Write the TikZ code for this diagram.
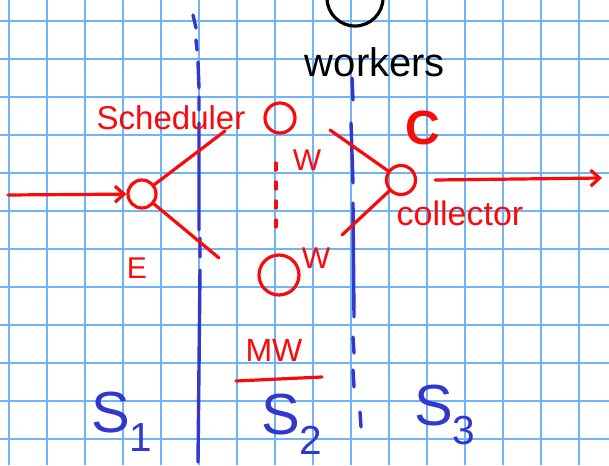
\documentclass[tikz,border=0pt]{standalone}
\usepackage{fontspec}
\setmainfont{Liberation Sans}
\usepackage{tikz}
\usetikzlibrary{positioning, arrows.meta}

\definecolor{inkred}{RGB}{250,10,10}
\definecolor{inkblue}{RGB}{50,55,205}
\definecolor{gridblue}{RGB}{110,180,250}

\begin{document}
\begin{tikzpicture}[x=1pt, y=-1pt, >={Straight Barb[length=9pt, width=16pt]},
    ink/.style={line width=3.2pt, line cap=round, inkred},
    sep/.style={line width=3.4pt, line cap=round, inkblue},
    proc/.style={circle, draw=inkred, line width=3.2pt, inner sep=0pt, minimum size=#1},
    lbl/.style={inkred, inner sep=0pt, font=\fontsize{#1}{#1}\selectfont},
    stage/.style={inkblue, inner sep=0pt, font=\fontsize{58}{58}\selectfont}]

    % squared paper
    \fill[white] (0,0) rectangle (609,465);
    \useasboundingbox (0,0) rectangle (609,465);
    \foreach \gx in {0,...,15}
        \draw[gridblue, line width=2pt] (8.5+38*\gx,0) -- ++(0,465);
    \foreach \gy in {0,...,11}
        \draw[gridblue, line width=2pt] (0,20.7+38*\gy) -- ++(609,0);

    % stage borders
    \draw[sep] (193,15) -- (196,28) (196,40) -- (197,50) (198,62) -- (199,88)
               (199,97) -- (199,110) (199,123) -- (199,230) (200,238) -- (200,257)
               (200,270) -- (198,462);
    \draw[sep] (352,78) -- (353,100) (351,123) -- (353,183) (353,203) -- (354,317)
               (353,337) -- (354,353) (353,370) -- (354,387) (360,412) -- (361,427);

    % farm
    \node[circle, draw, line width=3.2pt, minimum size=56pt] (master) at (355,-2) {};
    \node[font=\fontsize{40}{40}\selectfont, inner sep=0pt] (workers) at (375,62) {workers};

    \node[proc=28] (emitter)   at (142,194) {};
    \node[proc=30] (w1)        at (280,118) {};
    \node[proc=40] (w2)        at (279,275) {};
    \node[proc=29] (collector) at (401,180) {};

    \coordinate (in)  at (8,195);
    \coordinate (e1)  at (225,131);
    \coordinate (e2)  at (219,258);
    \coordinate (c1)  at (330,130);
    \coordinate (c2)  at (342,235);
    \coordinate (d1)  at (276,163);
    \coordinate (d2)  at (276,228);
    \coordinate (out) at (602,178);

    \draw[ink, ->] (in) -- (emitter);
    \draw[ink] (emitter) -- (e1);
    \draw[ink] (emitter) -- (e2);
    \draw[ink, dash pattern=on 7pt off 12pt] (d1) -- (d2);
    \draw[ink] (c1) -- (collector);
    \draw[ink] (c2) -- (collector);
    \draw[ink, ->] ([xshift=18pt]collector.east) -- (out);

    % labels
    \node[lbl=33] (sched) at (171,118) {Scheduler};
    \node[lbl=48] (clab)  at (423,128) {\bfseries C};
    \node[lbl=30] (wa)    at (307,160) {W};
    \node[lbl=30] (wb)    at (316,258) {W};
    \node[lbl=30] (elab)  at (137,268) {E};
    \node[lbl=34] (coll)  at (460,213) {collector};
    \node[lbl=32] (mw)    at (274,350) {MW};
    \draw[ink] (236,381) -- (322,377);

    \node[stage] (s1) at (122,422) {S\textsubscript{1}};
    \node[stage] (s2) at (292,424) {S\textsubscript{2}};
    \node[stage] (s3) at (445,415) {S\textsubscript{3}};
\end{tikzpicture}
\end{document}
